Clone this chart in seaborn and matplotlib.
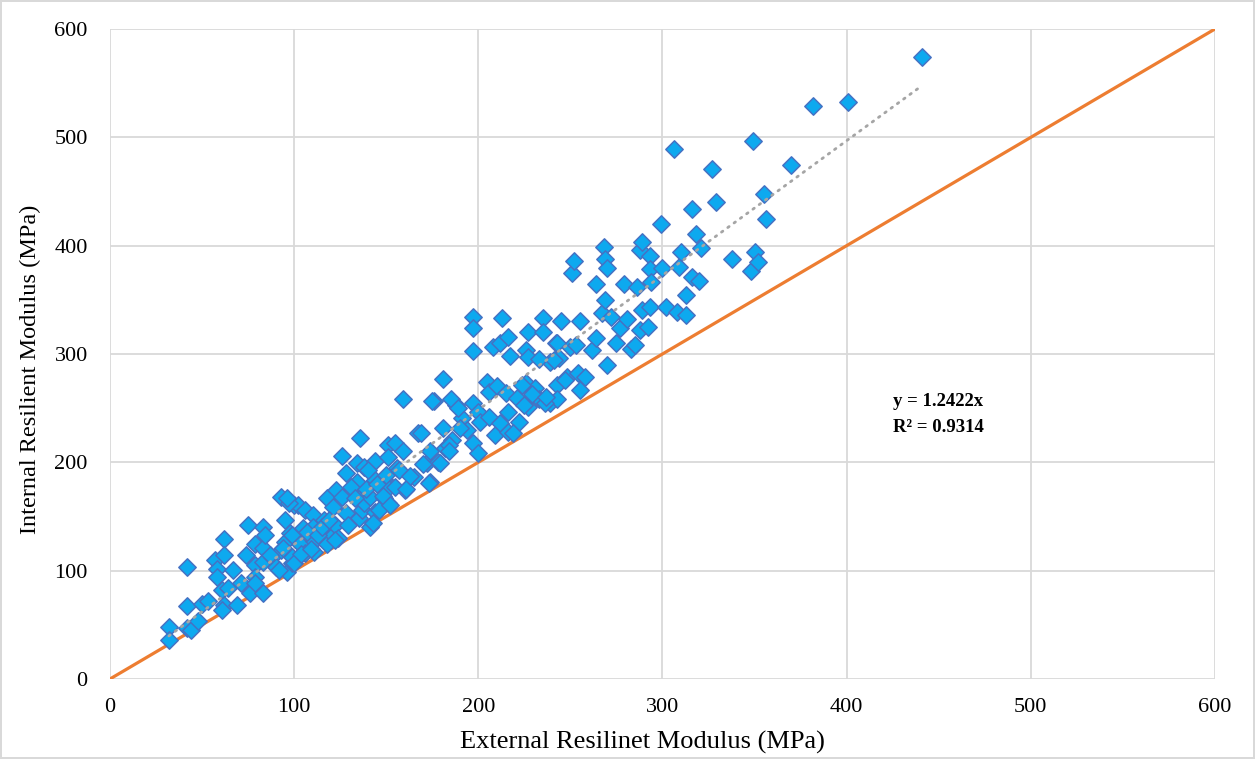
import matplotlib
matplotlib.use("Agg")
import matplotlib.pyplot as plt
import seaborn as sns
import numpy as np
import pandas as pd

# External vs internal resilient modulus (MPa) for each test specimen
external = [
    32, 32, 42, 42, 42, 44, 48, 50, 53, 57, 58, 58, 62, 62, 61, 62, 61, 64, 67, 69,
    71, 74, 75, 76, 79, 79, 79, 79, 83, 83, 83, 83, 84, 88, 90, 93, 93, 95, 95, 96,
    98, 99, 99, 99, 100, 100, 102, 103, 105, 106, 106, 110, 110, 111, 111, 116, 117, 118, 118, 121,
    121, 122, 123, 124, 126, 126, 128, 128, 134, 134, 135, 136, 136, 137, 138, 138, 141, 141, 144, 144,
    144, 149, 149, 151, 151, 151, 151, 155, 156, 159, 159, 160, 165, 167, 172, 174, 174, 178, 173, 104,
    107, 109, 113, 115, 119, 122, 129, 131, 133, 139, 140, 143, 145, 146, 148, 150, 152, 155, 157, 161,
    163, 170, 176, 182, 186, 188, 191, 194, 87, 92, 94, 97, 96, 169, 175, 179, 181, 181, 184, 184,
    185, 189, 190, 197, 197, 197, 197, 197, 200, 200, 201, 205, 206, 206, 208, 209, 210, 212, 212, 213,
    215, 216, 216, 216, 217, 221, 222, 226, 226, 227, 227, 227, 231, 233, 235, 235, 239, 239, 242, 243,
    243, 244, 245, 248, 219, 224, 225, 229, 233, 236, 237, 241, 247, 250, 243, 251, 252, 253, 254, 255,
    255, 258, 262, 264, 264, 267, 268, 269, 269, 270, 270, 272, 275, 277, 279, 281, 283, 285, 286, 288,
    288, 289, 289, 292, 293, 293, 293, 294, 299, 300, 302, 306, 308, 309, 310, 313, 313, 316, 316, 318,
    320, 321, 327, 329, 338, 348, 350, 349, 352, 355, 356, 370, 382, 401, 441,
]
internal = [
    48, 36, 103, 67, 47, 45, 54, 69, 72, 110, 102, 94, 129, 114, 82, 68, 64, 84, 101, 68,
    89, 114, 142, 79, 125, 105, 94, 89, 140, 121, 108, 79, 133, 113, 103, 168, 119, 147, 126, 99,
    135, 107, 133, 113, 161, 107, 161, 125, 139, 156, 116, 151, 140, 127, 117, 147, 136, 125, 167, 159,
    133, 142, 174, 130, 206, 168, 190, 153, 199, 182, 149, 222, 168, 156, 196, 162, 168, 140, 201, 184,
    154, 185, 167, 216, 205, 176, 162, 218, 195, 210, 258, 174, 186, 227, 199, 210, 182, 200, 181, 115,
    136, 120, 133, 140, 147, 128, 142, 177, 167, 175, 193, 144, 180, 156, 169, 188, 161, 177, 193, 175,
    187, 198, 257, 213, 221, 253, 241, 230, 114, 101, 121, 162, 167, 227, 257, 199, 277, 232, 216, 210,
    258, 250, 232, 334, 324, 303, 255, 218, 246, 209, 237, 274, 265, 242, 306, 225, 270, 310, 236, 333,
    264, 316, 246, 228, 298, 259, 237, 304, 273, 320, 297, 251, 269, 258, 333, 320, 293, 255, 310, 271,
    258, 296, 330, 279, 227, 271, 253, 263, 295, 255, 260, 294, 276, 306, 310, 375, 386, 308, 282, 330,
    267, 279, 304, 365, 315, 338, 399, 388, 350, 379, 290, 334, 310, 324, 365, 332, 305, 308, 362, 396,
    322, 403, 341, 325, 390, 378, 343, 366, 420, 379, 343, 489, 339, 380, 394, 354, 336, 434, 371, 411,
    367, 398, 471, 440, 388, 377, 394, 497, 385, 448, 425, 474, 529, 533, 574,
]

SLOPE = 1.2422
R2 = 0.9314
AXIS_TICKS = [0, 100, 200, 300, 400, 500, 600]

df = pd.DataFrame({"external": external, "internal": internal})

sns.set_theme(style="white")
plt.rcParams["font.family"] = ["Liberation Serif", "DejaVu Serif"]

fig = plt.figure(figsize=(12.55, 7.59), dpi=100)
fig.patch.set_edgecolor("#D9D9D9")
fig.patch.set_linewidth(1.5)
ax = fig.add_axes([0.0876, 0.1054, 0.8805, 0.8564])

# Line of equality
ax.plot([0, 600], [0, 600], color="#ED7D31", linewidth=2.3, zorder=3,
        solid_capstyle="butt")

sns.scatterplot(data=df, x="external", y="internal", marker="D", s=78,
                color="#0DA9EF", edgecolor="#4472C4", linewidth=1.1,
                ax=ax, zorder=4, legend=False)

# Linear trend through the origin
xs = np.array([min(external), max(external)])
ax.plot(xs, SLOPE * xs, color="#A5A5A5", linewidth=2.0, linestyle=(0, (0.6, 2.2)),
        dash_capstyle="round", zorder=5)

ax.text(425, 256, f"y = {SLOPE:.4f}x", fontsize=13.5, fontweight="bold",
        color="#000000", va="center", ha="left")
ax.text(425, 232, f"R² = {R2:.4f}", fontsize=13.5, fontweight="bold",
        color="#000000", va="center", ha="left")

ax.set_xlim(0, 600)
ax.set_ylim(0, 600)
ax.set_xticks(AXIS_TICKS)
ax.set_yticks(AXIS_TICKS)
ax.set_xticklabels([str(t) for t in AXIS_TICKS])
ax.set_yticklabels([str(t) for t in AXIS_TICKS])
ax.grid(True, color="#D9D9D9", linewidth=1.3)
ax.set_axisbelow(True)
for side in ax.spines.values():
    side.set_visible(False)
ax.tick_params(axis="both", length=0, labelsize=16, colors="#000000")
ax.tick_params(axis="x", pad=14)
ax.tick_params(axis="y", pad=16)

ax.set_xlabel("External Resilinet Modulus (MPa)", fontsize=19, color="#000000",
              va="center")
ax.set_ylabel("Internal Resilient Modulus (MPa)", fontsize=17.5, color="#000000",
              va="center")
ax.xaxis.set_label_coords(0.482, -0.098)
ax.yaxis.set_label_coords(-0.072, 0.477)

fig.savefig("out.png", dpi=100, edgecolor=fig.get_edgecolor())
